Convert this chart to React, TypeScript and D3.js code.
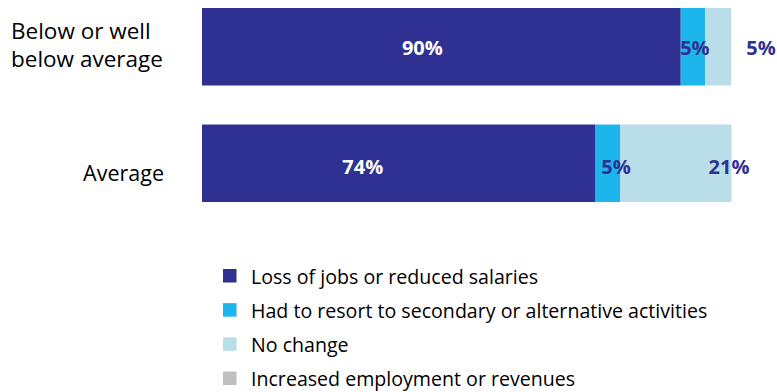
import React from "react";
import * as d3 from "d3";

const categories = ["Below or well below average", "Average"];
const categoryLines = [["Below or well", "below average"], ["Average"]];
const seriesNames = [
  "Loss of jobs or reduced salaries",
  "Had to resort to secondary or alternative activities",
  "No change",
  "Increased employment or revenues",
];
const lossValues = [90.5, 74.4];
const secondaryValues = [4.6, 4.7];
const noChangeValues = [4.9, 21.0];
const increasedValues = [0, 0];
const labelTexts = [
  ["90%", "74%"],
  ["5%", "5%"],
  ["5%", "21%"],
];

const colors = ["#2E3192", "#1CB5EC", "#B9DEE9", "#BFBFBF"];
const labelColors = ["#FFFFFF", "#2E3192", "#2E3192"];
// label nudges relative to segment centre (layout only)
const labelDx = [
  [-19, -36],
  [2, 8],
  [43, 53],
];
const labelDy = [8.5, 10.5];

const W = 777;
const H = 392;
const FONT = "'Open Sans', sans-serif";

export default function App() {
  const rows = categories.map((c, i) => ({
    cat: c,
    s0: lossValues[i],
    s1: secondaryValues[i],
    s2: noChangeValues[i],
    s3: increasedValues[i],
  }));
  const keys = ["s0", "s1", "s2", "s3"];
  const stacked = d3.stack<any>().keys(keys)(rows);

  const x = d3.scaleLinear().domain([0, 100]).range([202, 731]);
  const y = d3
    .scaleBand<string>()
    .domain(categories)
    .range([8, 202])
    .paddingInner(0.335)
    .paddingOuter(0);

  const legendY = d3
    .scalePoint<string>()
    .domain(seriesNames)
    .range([283.5, 386]);

  return (
    <svg
      width={W}
      height={H}
      style={{ position: "absolute", left: 0, top: 0, background: "#fff" }}
      fontFamily={FONT}
    >
      {stacked.map((layer, si) => (
        <g key={si} fill={colors[si]}>
          {layer.map((d, ci) =>
            d[1] - d[0] > 0 ? (
              <rect
                key={ci}
                x={x(d[0])}
                y={y(categories[ci])}
                width={x(d[1]) - x(d[0])}
                height={y.bandwidth()}
              />
            ) : null
          )}
        </g>
      ))}
      {stacked.slice(0, 3).map((layer, si) => (
        <g key={"l" + si}>
          {layer.map((d, ci) => (
            <text
              key={ci}
              x={(x(d[0]) + x(d[1])) / 2 + labelDx[si][ci]}
              y={(y(categories[ci]) as number) + y.bandwidth() / 2 + labelDy[ci]}
              textAnchor="middle"
              fontSize={20}
              fontWeight="bold"
              fill={labelColors[si]}
            >
              {labelTexts[si][ci]}
            </text>
          ))}
        </g>
      ))}
      {/* category labels */}
      <text x={11} y={39} fontSize={22.5} fill="#000">
        {categoryLines[0][0]}
      </text>
      <text x={11} y={67} fontSize={22.5} fill="#000">
        {categoryLines[0][1]}
      </text>
      <text x={164} y={181} fontSize={21.5} fill="#000" textAnchor="end">
        {categoryLines[1][0]}
      </text>
      {/* legend */}
      {seriesNames.map((n, i) => (
        <g key={n} transform={`translate(223, ${legendY(n)})`}>
          <rect x={0} y={-14.5} width={13.5} height={13.5} fill={colors[i]} />
          <text x={28} y={0} fontSize={19.6} fill="#000">
            {n}
          </text>
        </g>
      ))}
    </svg>
  );
}
